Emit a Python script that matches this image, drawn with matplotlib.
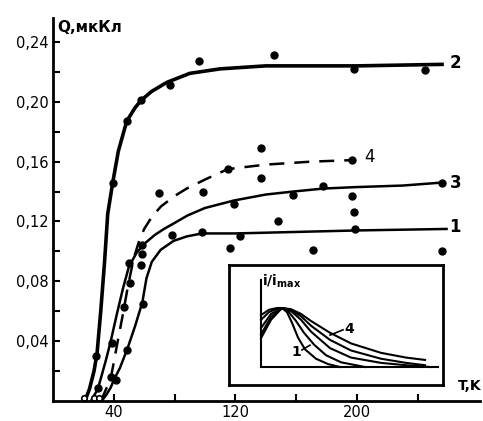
import matplotlib
from matplotlib import pyplot as plt

matplotlib.rcParams['font.family'] = ['DejaVu Sans']

# кривые Q(T), мкКл
t2 = [21, 24, 27, 29, 31.5, 34, 36, 39.3, 43, 48.5, 54, 58, 65, 75, 90, 110, 140, 200, 256]
q2 = [0.0, 0.008, 0.02, 0.032, 0.061, 0.094, 0.125, 0.146, 0.167, 0.187, 0.196, 0.201,
      0.207, 0.213, 0.219, 0.222, 0.224, 0.224, 0.225]

t3 = [25, 29.5, 32, 35, 38, 42, 46, 50, 55, 60, 67, 73, 80, 88.5, 100, 119, 140, 158, 178, 200, 230, 256]
q3 = [0.0, 0.008, 0.017, 0.028, 0.040, 0.058, 0.075, 0.090, 0.099, 0.105, 0.111, 0.115,
      0.119, 0.124, 0.129, 0.134, 0.138, 0.140, 0.142, 0.143, 0.144, 0.146]

t4 = [31.5, 38, 42.6, 46, 49, 53, 57, 60, 65, 71, 80, 88, 100, 115, 140, 170, 197]
q4 = [0.0, 0.015, 0.040, 0.058, 0.075, 0.095, 0.108, 0.115, 0.123, 0.130, 0.137, 0.142,
      0.148, 0.155, 0.158, 0.160, 0.161]

t1 = [32, 35, 38, 40, 44, 49, 54, 58.8, 61.5, 65, 70.8, 79.3, 88, 98, 120, 160, 200, 259]
q1 = [0.0, 0.004, 0.009, 0.014, 0.022, 0.035, 0.050, 0.066, 0.082, 0.093, 0.101, 0.107,
      0.110, 0.112, 0.112, 0.113, 0.114, 0.115]

# экспериментальные точки
p2_t = [28.6, 39.3, 48.5, 57.7, 76.7, 96, 145.6, 198, 245]
p2_q = [0.030, 0.146, 0.187, 0.201, 0.211, 0.227, 0.231, 0.222, 0.221]
p3_t = [29.5, 38.7, 49.8, 58.8, 69.5, 99, 119, 137, 158, 178, 197, 256]
p3_q = [0.009, 0.039, 0.092, 0.104, 0.139, 0.140, 0.132, 0.149, 0.138, 0.144, 0.137, 0.146]
p4_t = [38, 46.6, 50.7, 115.4, 137, 197]
p4_q = [0.016, 0.063, 0.079, 0.155, 0.169, 0.161]
p1_t = [41.3, 49, 59.5, 58.8, 57.7, 78, 98, 116.7, 123, 148, 171, 198, 199, 256]
p1_q = [0.014, 0.034, 0.065, 0.098, 0.091, 0.111, 0.113, 0.102, 0.110, 0.120, 0.101, 0.126, 0.115, 0.100]
open_t = [20.5, 27, 30]
open_q = [0.002, 0.002, 0.002]

# вставка: i/i_max
u_1 = [0, 0.8, 1.6, 2.1, 2.6, 3.1, 3.7, 4.4, 5.5, 6.7, 7.9]
v_1 = [0.80, 0.93, 0.99, 1.0, 0.93, 0.75, 0.50, 0.30, 0.14, 0.05, 0.0]
u_2 = [0, 0.8, 1.6, 2.1, 2.8, 3.5, 4.3, 5.3, 6.5, 8, 10.4]
v_2 = [0.88, 0.97, 1.0, 1.0, 0.93, 0.78, 0.58, 0.38, 0.2, 0.08, 0.0]
u_3 = [0, 1, 2.1, 3, 4, 5, 6.9, 9, 12, 14.5, 16.9]
v_3 = [0.66, 0.9, 1.0, 0.95, 0.8, 0.6, 0.32, 0.16, 0.07, 0.03, 0.0]
u_3b = [0, 1, 2.1, 3, 4, 5, 6.9, 9, 12, 14.5, 16.4]
v_3b = [0.55, 0.85, 1.0, 0.97, 0.86, 0.7, 0.46, 0.28, 0.14, 0.07, 0.03]
u_4 = [0, 1, 2.1, 3, 4, 5, 6.9, 9, 12, 14.5, 16.4]
v_4 = [0.49, 0.8, 1.0, 0.98, 0.9, 0.78, 0.58, 0.40, 0.24, 0.16, 0.12]

fig = plt.figure(figsize=(4.83, 4.21), dpi=100)
ax = fig.add_axes([53 / 483, 20 / 421, 427 / 483, 383 / 421])

ax.plot(t2, q2, color='black', linewidth=2.6)
ax.plot(t3, q3, color='black', linewidth=1.8)
ax.plot(t4, q4, color='black', linewidth=1.8, dashes=(6, 4))
ax.plot(t1, q1, color='black', linewidth=1.8)
for pt, pq in [(p2_t, p2_q), (p3_t, p3_q), (p4_t, p4_q), (p1_t, p1_q)]:
    ax.plot(pt, pq, 'o', color='black', markersize=5)
ax.plot(open_t, open_q, 'o', markerfacecolor='white', markeredgecolor='black',
        markersize=4, markeredgewidth=1.2)

# номера кривых
ax.text(261, 0.226, '2', fontsize=12, fontweight='bold', va='center')
ax.text(261, 0.146, '3', fontsize=12, fontweight='bold', va='center')
ax.text(261, 0.116, '1', fontsize=12, fontweight='bold', va='center')
ax.text(205, 0.163, '4', fontsize=12, va='center')

ax.set_xlim(0, 281)
ax.set_ylim(0, 0.256)
ax.spines['top'].set_visible(False)
ax.spines['right'].set_visible(False)
ax.spines['left'].set_linewidth(2)
ax.spines['bottom'].set_linewidth(2)

ax.set_xticks([40, 120, 200])
ax.set_xticklabels(['40', '120', '200'])
ax.set_xticks([80, 160, 240], minor=True)
ax.set_yticks([0.04, 0.08, 0.12, 0.16, 0.20, 0.24])
ax.set_yticklabels(['0,04', '0,08', '0,12', '0,16', '0,20', '0,24'])
ax.set_yticks([0.02, 0.06, 0.10, 0.14, 0.18, 0.22], minor=True)
ax.tick_params(which='both', direction='in', length=5, width=1.5, labelsize=10.5, pad=3)

fig.text(57 / 483, 1 - 27 / 421, 'Q,мкКл', fontsize=11, fontweight='bold', va='center')
fig.text(481 / 483, 1 - 386 / 421, 'T,K', fontsize=10, fontweight='bold', va='center', ha='right')

# вставка
ins = fig.add_axes([229 / 483, 36 / 421, 214 / 483, 120 / 421])
ins.set_xlim(-3.2, 18.2)
ins.set_ylim(-0.305, 1.729)
ins.set_xticks([])
ins.set_yticks([])
for s in ins.spines.values():
    s.set_linewidth(2)
ins.plot([0, 0], [0, 1.47], color='black', linewidth=1.5)
ins.plot([0, 17.7], [0, 0], color='black', linewidth=1.5)
for uu, vv in [(u_1, v_1), (u_2, v_2), (u_3, v_3), (u_3b, v_3b), (u_4, v_4)]:
    ins.plot(uu, vv, color='black', linewidth=1.5)
ins.plot([6.9, 8.2], [0.54, 0.63], color='black', linewidth=1.2)
ins.text(8.3, 0.64, '4', fontsize=10, fontweight='bold', va='center')
ins.plot([4.1, 4.9], [0.29, 0.37], color='black', linewidth=1.2)
ins.text(3.0, 0.26, '1', fontsize=10, fontweight='bold', va='center')
ins.text(0.1, 1.45, r'$\mathbf{i/i_{max}}$', fontsize=10, va='center')

plt.savefig('out.png', dpi=100)
